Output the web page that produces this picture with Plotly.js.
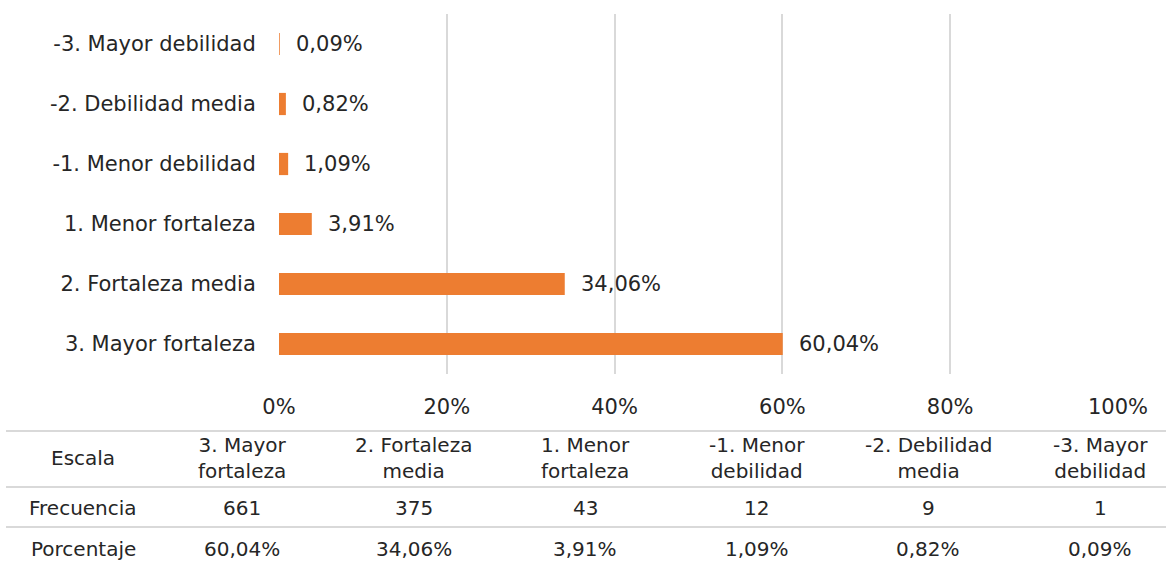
<!DOCTYPE html>
<html><head><meta charset="utf-8">
<script src="https://cdn.plot.ly/plotly-3.0.1.min.js"></script>
<style>html,body{margin:0;padding:0;background:#fff}#chart{width:1172px;height:562px}</style>
</head><body><div id="chart"></div>
<script>
const categories = ["3. Mayor fortaleza","2. Fortaleza media","1. Menor fortaleza","-1. Menor debilidad","-2. Debilidad media","-3. Mayor debilidad"];
const headerLabels = ["3. Mayor<br>fortaleza","2. Fortaleza<br>media","1. Menor<br>fortaleza","-1. Menor<br>debilidad","-2. Debilidad<br>media","-3. Mayor<br>debilidad"];
const frecuencia = [661,375,43,12,9,1];
const porcentaje = [60.04,34.06,3.91,1.09,0.82,0.09];
const xTickVals = [0,20,40,60,80,100];
const xTickText = ["0%","20%","40%","60%","80%","100%"];
const rowLabels = ["Escala","Frecuencia","Porcentaje"];

const W=1172,H=562;
const FONT="DejaVu Sans";
const TXT="#262626";
const fmt = v => v.toFixed(2).replace(".",",")+"%";

const bar = {
  type:"bar", orientation:"h", x:porcentaje, y:categories,
  marker:{color:"#ED7D31"}, width:0.37, hoverinfo:"none", xaxis:"x", yaxis:"y"
};
const annotations = [];
porcentaje.forEach((v,i)=>{
  annotations.push({x:v,y:categories[i],xref:"x",yref:"y",text:fmt(v),showarrow:false,
    xanchor:"left",xshift:14,font:{family:FONT,size:21,color:TXT}});
});
// table
const colX = i => 242 + i*171.6;
const tfont = {family:FONT,size:20,color:TXT};
annotations.push({x:83,y:458,xref:"x2",yref:"y2",text:rowLabels[0],showarrow:false,font:tfont});
annotations.push({x:83,y:508,xref:"x2",yref:"y2",text:rowLabels[1],showarrow:false,font:tfont});
annotations.push({x:83,y:549,xref:"x2",yref:"y2",text:rowLabels[2],showarrow:false,font:tfont});
categories.forEach((c,i)=>{
  annotations.push({x:colX(i),y:458,xref:"x2",yref:"y2",text:headerLabels[i],showarrow:false,font:tfont});
  annotations.push({x:colX(i),y:508,xref:"x2",yref:"y2",text:String(frecuencia[i]),showarrow:false,font:tfont});
  annotations.push({x:colX(i),y:549,xref:"x2",yref:"y2",text:fmt(porcentaje[i]),showarrow:false,font:tfont});
});
const shapes = [431,487,527].map(yy=>({type:"line",xref:"x2",yref:"y2",x0:6,x1:1166,y0:yy,y1:yy,line:{color:"#d9d9d9",width:2}}));

const layout = {
  width:W,height:H,margin:{l:0,r:0,t:0,b:0},paper_bgcolor:"#fff",plot_bgcolor:"rgba(0,0,0,0)",
  showlegend:false,
  xaxis:{domain:[279/W,1118/W],range:[0,100],tickvals:xTickVals,ticktext:xTickText,
    showgrid:true,gridcolor:"#d9d9d9",gridwidth:2,zeroline:false,showline:false,
    ticks:"outside",ticklen:14,tickcolor:"rgba(0,0,0,0)",
    tickfont:{family:FONT,size:21,color:TXT},anchor:"y",fixedrange:true},
  yaxis:{domain:[(H-374)/H,(H-14)/H],type:"category",categoryorder:"array",categoryarray:categories,
    range:[-0.5,5.5],showgrid:false,zeroline:false,showline:false,
    ticks:"outside",ticklen:18,tickcolor:"rgba(0,0,0,0)",
    tickfont:{family:FONT,size:21,color:TXT},anchor:"x",fixedrange:true},
  xaxis2:{domain:[0,1],range:[0,W],visible:false,anchor:"y2",fixedrange:true},
  yaxis2:{domain:[0,1],range:[H,0],visible:false,anchor:"x2",fixedrange:true},
  annotations, shapes
};
const dummy = {type:"scatter",x:[0],y:[0],xaxis:"x2",yaxis:"y2",mode:"markers",marker:{opacity:0},hoverinfo:"none"};
Plotly.newPlot("chart",[bar,dummy],layout,{staticPlot:true,displayModeBar:false});
</script></body></html>
